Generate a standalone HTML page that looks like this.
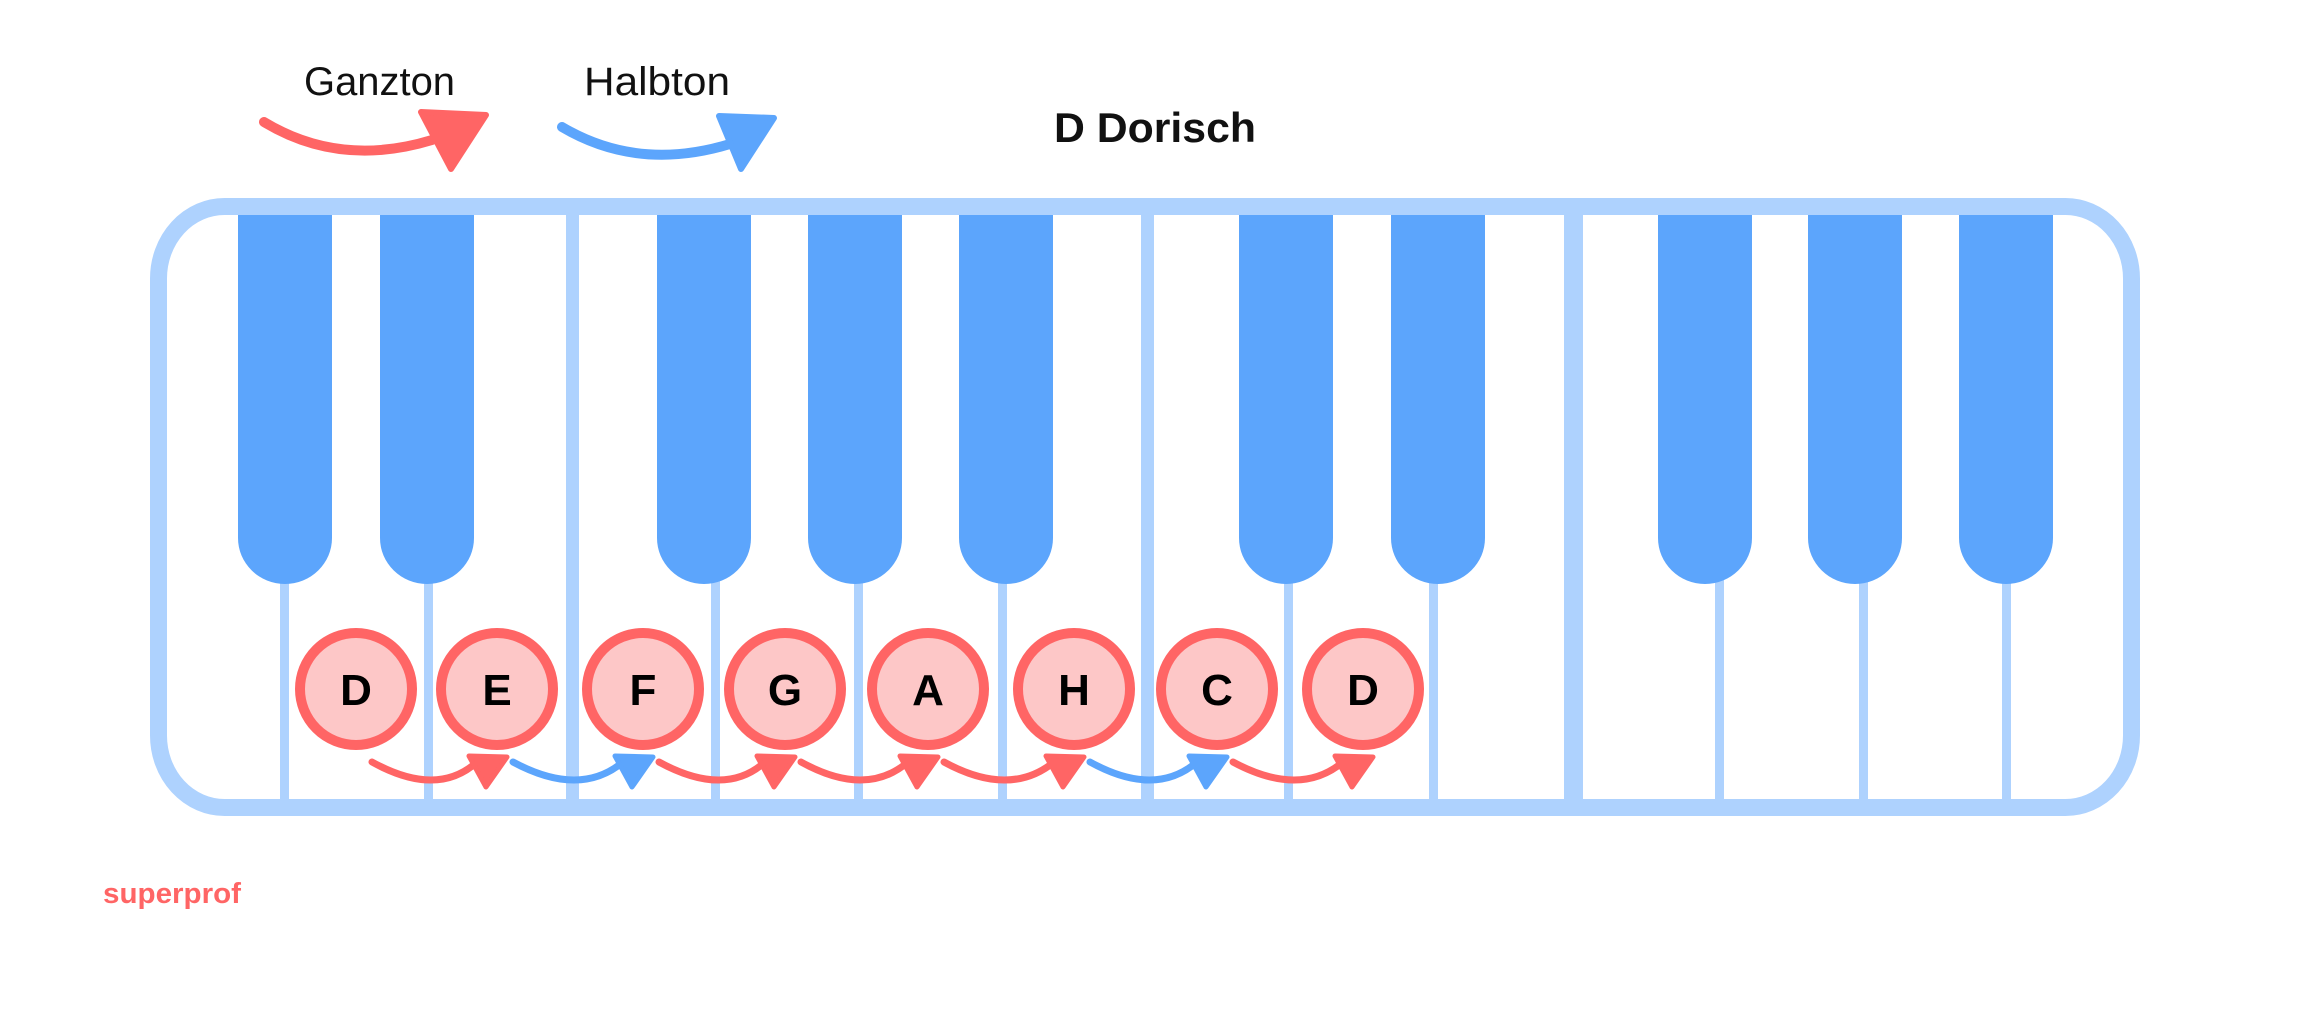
<!DOCTYPE html>
<html><head><meta charset="utf-8"><style>
html,body{margin:0;padding:0;background:#fff;}
svg{display:block;}
text{font-family:"Liberation Sans",sans-serif;}
</style></head><body>
<svg width="2310" height="1029" viewBox="0 0 2310 1029" xmlns="http://www.w3.org/2000/svg">
<rect x="0" y="0" width="2310" height="1029" fill="#fff"/>
<!-- legend -->
<text x="304" y="95" font-size="40" fill="#111" textLength="151" lengthAdjust="spacingAndGlyphs">Ganzton</text>
<text x="584" y="95" font-size="40" fill="#111" textLength="146" lengthAdjust="spacingAndGlyphs">Halbton</text>
<path d="M264,122 Q340,168 432,140" fill="none" stroke="#ff6565" stroke-width="10" stroke-linecap="round"/>
<polygon points="421,112 486,115 451,169" fill="#ff6565" stroke="#ff6565" stroke-width="6" stroke-linejoin="round"/>
<path d="M562,127 Q638,172 730,144" fill="none" stroke="#5ca5fc" stroke-width="10" stroke-linecap="round"/>
<polygon points="719,116 774,118 741,169" fill="#5ca5fc" stroke="#5ca5fc" stroke-width="6" stroke-linejoin="round"/>
<text x="1054" y="142" font-size="42" font-weight="bold" fill="#111" textLength="202" lengthAdjust="spacingAndGlyphs">D Dorisch</text>
<!-- frame -->
<rect x="158.5" y="206.5" width="1973" height="601" rx="66" ry="72" fill="#fff" stroke="#aed2fe" stroke-width="17"/>
<!-- full separators -->
<rect x="566" y="210" width="13" height="595" fill="#aed2fe"/>
<rect x="1141" y="210" width="13" height="595" fill="#aed2fe"/>
<rect x="1564" y="210" width="19" height="595" fill="#aed2fe"/>
<!-- thin separators -->
<g fill="#aed2fe">
<rect x="280" y="560" width="9" height="245"/>
<rect x="424" y="560" width="9" height="245"/>
<rect x="711" y="560" width="9" height="245"/>
<rect x="854" y="560" width="9" height="245"/>
<rect x="998" y="560" width="9" height="245"/>
<rect x="1284" y="560" width="9" height="245"/>
<rect x="1429" y="560" width="9" height="245"/>
<rect x="1715" y="560" width="9" height="245"/>
<rect x="1859" y="560" width="9" height="245"/>
<rect x="2002" y="560" width="9" height="245"/>
</g>
<!-- black keys -->
<g fill="#5ca5fc">
<path d="M238,215 H332 V538 A47,46 0 0 1 238,538 Z"/>
<path d="M380,215 H474 V538 A47,46 0 0 1 380,538 Z"/>
<path d="M657,215 H751 V538 A47,46 0 0 1 657,538 Z"/>
<path d="M808,215 H902 V538 A47,46 0 0 1 808,538 Z"/>
<path d="M959,215 H1053 V538 A47,46 0 0 1 959,538 Z"/>
<path d="M1239,215 H1333 V538 A47,46 0 0 1 1239,538 Z"/>
<path d="M1391,215 H1485 V538 A47,46 0 0 1 1391,538 Z"/>
<path d="M1658,215 H1752 V538 A47,46 0 0 1 1658,538 Z"/>
<path d="M1808,215 H1902 V538 A47,46 0 0 1 1808,538 Z"/>
<path d="M1959,215 H2053 V538 A47,46 0 0 1 1959,538 Z"/>
</g>
<!-- circles -->
<g fill="#fdc7c7" stroke="#ff6565" stroke-width="10">
<circle cx="356" cy="689" r="56"/>
<circle cx="497" cy="689" r="56"/>
<circle cx="643" cy="689" r="56"/>
<circle cx="785" cy="689" r="56"/>
<circle cx="928" cy="689" r="56"/>
<circle cx="1074" cy="689" r="56"/>
<circle cx="1217" cy="689" r="56"/>
<circle cx="1363" cy="689" r="56"/>
</g>
<g font-size="44" font-weight="bold" fill="#000" text-anchor="middle">
<text x="356" y="705">D</text>
<text x="497" y="705">E</text>
<text x="643" y="705">F</text>
<text x="785" y="705">G</text>
<text x="928" y="705">A</text>
<text x="1074" y="705">H</text>
<text x="1217" y="705">C</text>
<text x="1363" y="705">D</text>
</g>
<!-- step arrows -->
<g fill="none" stroke-width="7" stroke-linecap="round">
<path d="M372,762 Q437,798 477,762" stroke="#ff6565"/>
<path d="M513,762 Q580,798 623,762" stroke="#5ca5fc"/>
<path d="M659,762 Q725,798 765,762" stroke="#ff6565"/>
<path d="M801,762 Q866,798 908,762" stroke="#ff6565"/>
<path d="M944,762 Q1010,798 1054,762" stroke="#ff6565"/>
<path d="M1090,762 Q1155,798 1197,762" stroke="#5ca5fc"/>
<path d="M1233,762 Q1300,798 1343,762" stroke="#ff6565"/>
</g>
<g stroke-width="5" stroke-linejoin="round">
<polygon points="469,756 507,757 486,787" fill="#ff6565" stroke="#ff6565"/>
<polygon points="615,756 653,757 632,787" fill="#5ca5fc" stroke="#5ca5fc"/>
<polygon points="757,756 795,757 774,787" fill="#ff6565" stroke="#ff6565"/>
<polygon points="900,756 938,757 917,787" fill="#ff6565" stroke="#ff6565"/>
<polygon points="1046,756 1084,757 1063,787" fill="#ff6565" stroke="#ff6565"/>
<polygon points="1189,756 1227,757 1206,787" fill="#5ca5fc" stroke="#5ca5fc"/>
<polygon points="1335,756 1373,757 1352,787" fill="#ff6565" stroke="#ff6565"/>
</g>
<text x="103" y="903" font-size="29" font-weight="bold" fill="#ff6565" textLength="138" lengthAdjust="spacingAndGlyphs">superprof</text>
</svg>
</body></html>
